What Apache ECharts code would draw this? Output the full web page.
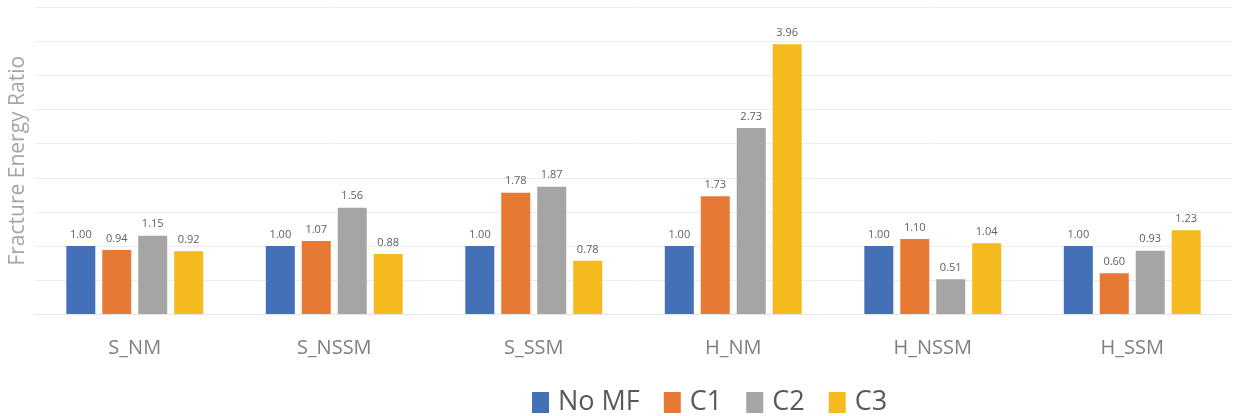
<!DOCTYPE html>
<html>
<head>
<meta charset="utf-8">
<script src="https://cdn.jsdelivr.net/npm/echarts@6/dist/echarts.min.js"></script>
<style>html,body{margin:0;padding:0;background:#fff;}#c{width:1234px;height:416px;}</style>
</head>
<body>
<div id="c"></div>
<script>
const categories = ['S_NM', 'S_NSSM', 'S_SSM', 'H_NM', 'H_NSSM', 'H_SSM'];
const seriesNames = ['No MF', 'C1', 'C2', 'C3'];
const noMF = [1.00, 1.00, 1.00, 1.00, 1.00, 1.00];
const c1 = [0.94, 1.07, 1.78, 1.73, 1.10, 0.60];
const c2 = [1.15, 1.56, 1.87, 2.73, 0.51, 0.93];
const c3 = [0.92, 0.88, 0.78, 3.96, 1.04, 1.23];
const colors = ['#4470B8', '#E67A34', '#A5A5A5', '#F5BA1D'];

const values = [noMF, c1, c2, c3];
const chart = echarts.init(document.getElementById('c'));
const font = "'Open Sans', 'Noto Sans', sans-serif";
chart.setOption({
  animation: false,
  textStyle: { fontFamily: font },
  grid: { left: 35, right: 2, top: 7.5, bottom: 102, containLabel: false },
  legend: {
    data: seriesNames,
    left: 527, top: 384,
    icon: 'rect', itemWidth: 17, itemHeight: 21, itemGap: 24,
    textStyle: { fontSize: 27, color: '#595959', fontFamily: font, padding: [0, 0, 0, 4] }
  },
  xAxis: {
    type: 'category', data: categories,
    axisLine: { show: true, lineStyle: { color: '#e6e6e6', width: 1 } },
    axisTick: { show: false },
    axisLabel: { fontSize: 20, color: '#7f7f7f', margin: 24, fontFamily: font }
  },
  yAxis: {
    type: 'value', min: 0, max: 4.5, interval: 0.5,
    name: 'Fracture Energy Ratio', nameLocation: 'middle', nameGap: 6,
    nameTextStyle: { fontSize: 21, color: '#a6a6a6', fontFamily: font },
    axisLine: { show: false }, axisTick: { show: false },
    axisLabel: { show: false },
    splitLine: { lineStyle: { color: '#ececec', width: 1 } }
  },
  series: seriesNames.map((n, i) => ({
    name: n, type: 'bar', data: values[i],
    barWidth: 29, barGap: '24%',
    itemStyle: { color: colors[i] },
    label: {
      show: true, position: 'top', distance: 6,
      fontSize: 11, color: '#606060', fontFamily: font,
      formatter: p => p.value.toFixed(2)
    }
  }))
});
</script>
</body>
</html>
